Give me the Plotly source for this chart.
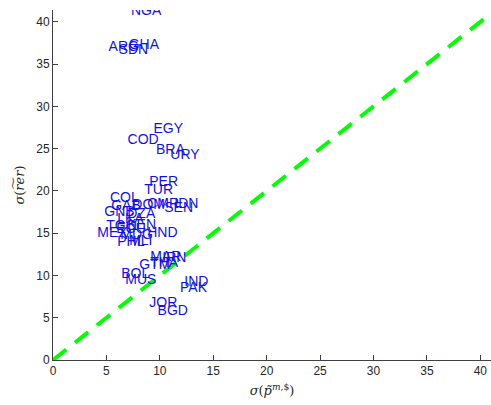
import plotly.graph_objects as go

countries = ["NGA", "ARG", "SDN", "GHA", "EGY", "COD", "BRA", "URY", "PER", "TUR",
             "COL", "GAB", "DOM", "CMR", "IDN", "SEN", "GNB", "DZA", "LKA", "TGO",
             "KEN", "ECU", "MEX", "MDG", "HND", "PHL", "MLI", "MAR", "IRN", "GTM",
             "THA", "BOL", "MUS", "IND", "PAK", "JOR", "BGD"]
sigma_p = [7.30, 5.20, 6.14, 7.09, 9.41, 6.98, 9.64, 10.98, 9.01, 8.54,
           5.33, 5.45, 7.42, 8.82, 11.35, 10.41, 4.80, 6.95, 6.01, 4.98,
           6.95, 5.92, 4.14, 6.30, 8.82, 6.01, 7.13, 9.10, 10.23, 8.07,
           9.10, 6.39, 6.76, 12.29, 11.89, 9.01, 9.79]
sigma_rer = [41.22, 36.96, 36.60, 37.16, 27.30, 25.95, 24.73, 24.14, 20.98, 20.00,
             19.14, 18.11, 18.22, 18.34, 18.34, 17.87, 17.40, 17.16, 16.57, 15.74,
             15.86, 15.38, 14.91, 14.67, 14.91, 13.85, 13.96, 12.07, 11.95, 11.12,
             11.36, 10.06, 9.35, 9.11, 8.49, 6.71, 5.72]
diag = [0, 45]
xticks = [0, 5, 10, 15, 20, 25, 30, 35, 40]
yticks = [0, 5, 10, 15, 20, 25, 30, 35, 40]

fig = go.Figure()
fig.add_trace(go.Scatter(x=diag, y=diag, mode="lines",
                         line=dict(color="#00FF00", width=4, dash="17px,11px"),
                         hoverinfo="skip", showlegend=False))
fig.add_trace(go.Scatter(x=sigma_p, y=sigma_rer, mode="text", text=countries,
                         textposition="middle right",
                         textfont=dict(family="Liberation Sans, Arial", size=14, color="#1010F0"),
                         showlegend=False))

axis_common = dict(showgrid=False, zeroline=False, showline=True, linecolor="#404040",
                   linewidth=1, ticks="inside", ticklen=5, tickcolor="#404040",
                   tickfont=dict(family="Liberation Sans, Arial", size=12, color="#262626"),
                   mirror=False)
fig.update_xaxes(range=[0, 41], tickvals=xticks, **axis_common,
                 title=dict(text="<i>σ</i>(<i>p̃</i><sup><i>m</i>,$</sup>)",
                            font=dict(family="DejaVu Serif, serif", size=13, color="#262626"),
                            standoff=8))
fig.update_yaxes(range=[0, 41.4], tickvals=yticks, **axis_common,
                 title=dict(text="<i>σ</i>(<i>r͠er</i>)",
                            font=dict(family="DejaVu Serif, serif", size=13, color="#262626"),
                            standoff=8))
fig.update_layout(width=491, height=405, margin=dict(l=53, r=0, t=10, b=45),
                  plot_bgcolor="white", paper_bgcolor="white")
fig.write_html("out.html")
